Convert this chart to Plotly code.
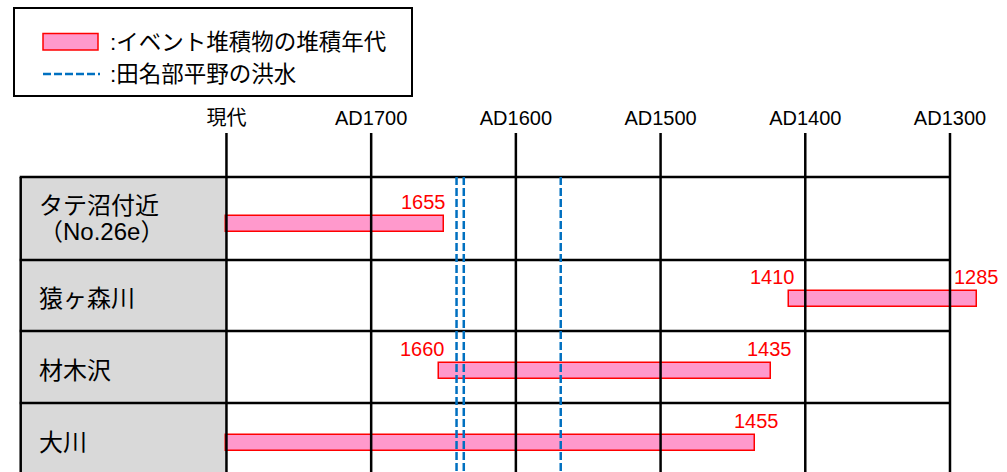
import plotly.graph_objects as go

# ---------------- data ----------------
sites = ["タテ沼付近<br>（No.26e）", "猿ヶ森川", "材木沢", "大川"]
bar_start = [1800, 1411, 1653, 1800]      # drawn start of deposit age range (axis years)
bar_end = [1650, 1281, 1424, 1435]        # drawn end of deposit age range
start_labels = ["", "1410", "1660", ""]
end_labels = ["1655", "1285", "1435", "1455"]
flood_years = [1641, 1636, 1569]
tick_vals = [1800, 1700, 1600, 1500, 1400, 1300]
tick_text = ["現代", "AD1700", "AD1600", "AD1500", "AD1400", "AD1300"]
legend_texts = [":イベント堆積物の堆積年代", ":田名部平野の洪水"]

# ---------------- layout constants ----------------
W, H = 1007, 472
FONT = "Liberation Sans, Arial, Noto Sans CJK JP"
PINK, RED, BLUE = "#ff99cc", "#ff0000", "#0070c0"
row_top = [177, 260, 331, 403]
row_bot = [260, 331, 403, 475]
bar_off = [5, 3.5, 3.5, 3.5]
label_off = [0, 3, 3, 3]
bar_h = 16
axis_y = 133
table_left_px = 20.7
x_range = [1956.5, 1260.6]

def pxx(x):
    return x / W

row_c = [(t + b) / 2 for t, b in zip(row_top, row_bot)]
bar_c = [c + o for c, o in zip(row_c, bar_off)]

fig = go.Figure()
fig.add_trace(go.Bar(
    orientation="h",
    y=bar_c,
    base=bar_start,
    x=[e - s for s, e in zip(bar_start, bar_end)],
    width=bar_h,
    marker=dict(color=PINK, line=dict(color=RED, width=1.5)),
    showlegend=False,
    hoverinfo="skip",
))

shapes = []
# gray label column
shapes.append(dict(type="rect", xref="paper", yref="y", x0=pxx(table_left_px), x1=pxx(226.5),
                   y0=row_top[0], y1=H + 5, fillcolor="#d9d9d9", line_width=0, layer="below"))
# horizontal lines
for t in row_top:
    shapes.append(dict(type="line", xref="paper", yref="y", x0=pxx(table_left_px - 1), x1=pxx(951),
                       y0=t, y1=t, line=dict(color="black", width=2.5), layer="above"))
# left border
shapes.append(dict(type="line", xref="paper", yref="y", x0=pxx(table_left_px), x1=pxx(table_left_px),
                   y0=row_top[0], y1=H + 5, line=dict(color="black", width=2.5), layer="above"))
# vertical tick lines
for tv in tick_vals:
    shapes.append(dict(type="line", xref="x", yref="y", x0=tv, x1=tv, y0=axis_y, y1=H + 5,
                       line=dict(color="black", width=2.5), layer="above"))
# flood dashed lines
for fy in flood_years:
    shapes.append(dict(type="line", xref="x", yref="y", x0=fy, x1=fy, y0=row_top[0], y1=H + 5,
                       line=dict(color=BLUE, width=2.5, dash="8px,3px"), layer="above"))
# legend box
shapes.append(dict(type="rect", xref="paper", yref="y", x0=pxx(14), x1=pxx(412), y0=8, y1=96,
                   line=dict(color="black", width=2), fillcolor="white"))
shapes.append(dict(type="rect", xref="paper", yref="y", x0=pxx(43), x1=pxx(98), y0=33.5, y1=50,
                   line=dict(color=RED, width=1.5), fillcolor=PINK))
shapes.append(dict(type="line", xref="paper", yref="y", x0=pxx(43), x1=pxx(100), y0=74, y1=74,
                   line=dict(color=BLUE, width=2.5, dash="8px,3px")))

ann = []
for i, t in enumerate(legend_texts):
    ann.append(dict(xref="paper", yref="y", x=pxx(108), y=[42, 74][i], text=t, showarrow=False,
                    xanchor="left", yanchor="middle", font=dict(family=FONT, size=22.5, color="black")))
# row labels
for i, s in enumerate(sites):
    lines = s.split("<br>")
    n = len(lines)
    for j, ln in enumerate(lines):
        yy = row_c[i] + label_off[i] + (j - (n - 1) / 2) * 26.7
        ann.append(dict(xref="paper", yref="y", x=pxx(37), y=yy, text=ln, showarrow=False,
                        xanchor="left", yanchor="middle", font=dict(family=FONT, size=24, color="black")))
# value labels
start_shift = [0, 8, 8, 0]
end_anchor = ["right", "left", "left", "left"]
end_shift = [4, -25, -26, -23]
for i in range(len(sites)):
    ly = bar_c[i] - bar_h / 2 - 14
    if start_labels[i]:
        ann.append(dict(xref="x", yref="y", x=bar_start[i], y=ly, text=start_labels[i], showarrow=False,
                        xanchor="right", yanchor="middle", xshift=start_shift[i],
                        font=dict(family=FONT, size=20, color=RED)))
    if end_labels[i]:
        ann.append(dict(xref="x", yref="y", x=bar_end[i], y=ly, text=end_labels[i], showarrow=False,
                        xanchor=end_anchor[i], yanchor="middle", xshift=end_shift[i],
                        font=dict(family=FONT, size=20, color=RED)))

fig.update_layout(
    width=W, height=H,
    margin=dict(l=0, r=0, t=0, b=0),
    paper_bgcolor="white", plot_bgcolor="white",
    shapes=shapes, annotations=ann,
    xaxis=dict(range=x_range, tickvals=tick_vals, ticktext=tick_text, side="top",
               anchor="free", position=1 - axis_y / H, showgrid=False, zeroline=False,
               showline=False, ticks="", ticklabelstandoff=4,
               tickfont=dict(family=FONT, size=20, color="black")),
    yaxis=dict(range=[H, 0], visible=False, showgrid=False, zeroline=False),
    bargap=0,
)

fig.write_html("out.html", config={"displayModeBar": False},
               post_script="document.body.style.margin='0';document.body.style.overflow='hidden';")
